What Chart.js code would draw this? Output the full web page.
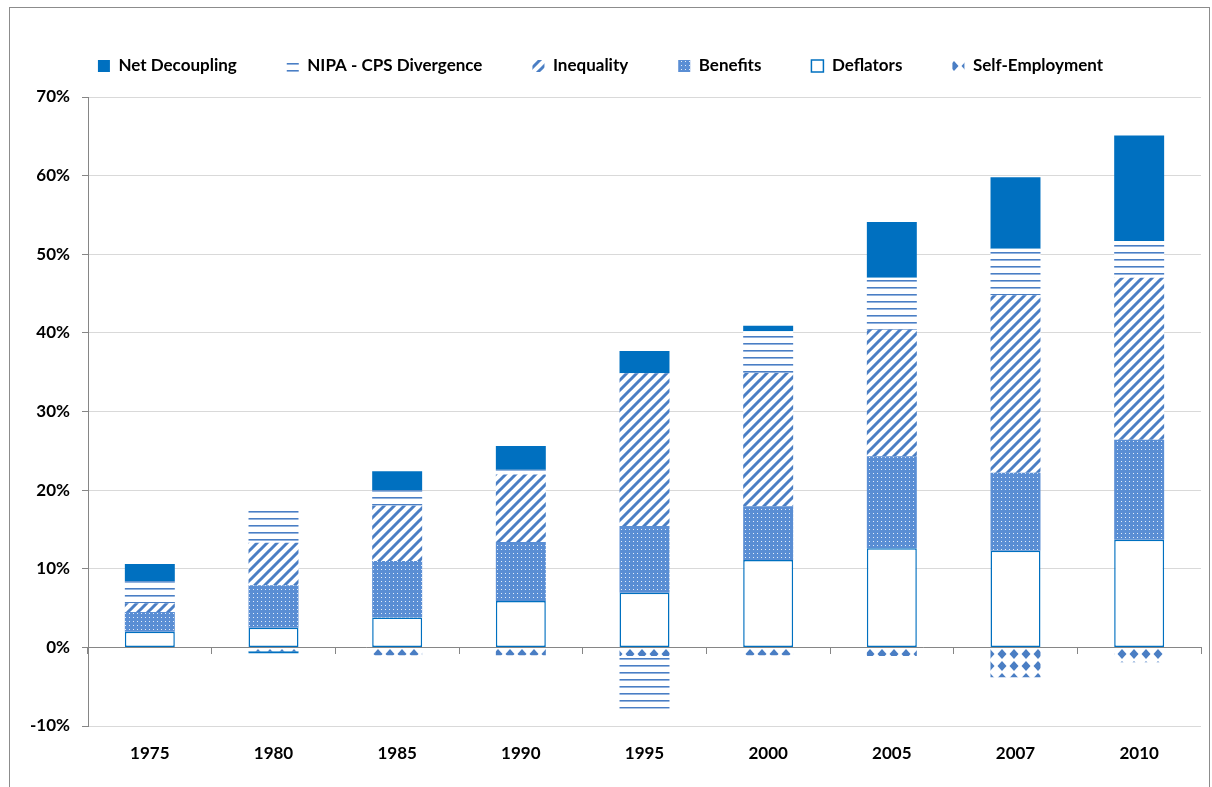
<!DOCTYPE html>
<html>
<head>
<meta charset="utf-8">
<script src="https://cdn.jsdelivr.net/npm/chart.js@4.4.1/dist/chart.umd.min.js"></script>
<style>
  html, body { margin: 0; padding: 0; background: #fff; }
  #wrap { position: relative; width: 1212px; height: 787px; }
</style>
</head>
<body>
<div id="wrap"><canvas id="chart" width="1212" height="787"></canvas></div>
<script>
const years = ["1975", "1980", "1985", "1990", "1995", "2000", "2005", "2007", "2010"];

// percent values
const selfEmployment = [-0.2, -0.5, -1.0, -1.0, -1.1, -1.0, -1.1, -3.8, -1.9];
const deflators = [2.0, 2.5, 3.8, 5.9, 6.95, 11.1, 12.6, 12.3, 13.7];
const benefits = [2.5, 5.4, 7.2, 7.5, 8.5, 6.85, 11.7, 9.9, 12.7];
const inequality = [1.1, 5.4, 7.0, 8.6, 19.4, 16.95, 16.1, 22.6, 20.6];
const nipaCps = [2.8, 4.2, 2.0, 0.6, -6.7, 5.3, 6.6, 5.9, 4.7];
const netDecoupling = [2.2, -0.25, 2.4, 3.0, 2.85, 0.7, 7.1, 9.1, 13.4];

const yTicks = [-10, 0, 10, 20, 30, 40, 50, 60, 70];

const BLUE = "#0070C0";
const LINE_BLUE = "#4A7EC4";
const FONT = { family: "Lato, 'Liberation Sans', sans-serif", size: 17, weight: "bold" };

const makePattern = (w, h, draw) => {
  const c = document.createElement("canvas");
  c.width = w;
  c.height = h;
  const g = c.getContext("2d");
  draw(g, w, h);
  return g.createPattern(c, "repeat");
};

const hLines = makePattern(8, 7, (g, w, h) => {
  g.fillStyle = "#fff";
  g.fillRect(0, 0, w, h);
  g.fillStyle = LINE_BLUE;
  g.fillRect(0, 0, w, 1);
  g.fillStyle = "#93B3DE";
  g.fillRect(0, 1, w, 1);
});

const diagonals = makePattern(10, 10, (g, w, h) => {
  g.fillStyle = "#fff";
  g.fillRect(0, 0, w, h);
  g.strokeStyle = LINE_BLUE;
  g.lineWidth = 3;
  g.beginPath();
  g.moveTo(-5, 5); g.lineTo(5, -5);
  g.moveTo(0, 10); g.lineTo(10, 0);
  g.moveTo(5, 15); g.lineTo(15, 5);
  g.stroke();
});

const dots = makePattern(4, 4, (g, w, h) => {
  g.fillStyle = "#5A8ED4";
  g.fillRect(0, 0, w, h);
  g.fillStyle = "#E3EDF9";
  g.fillRect(1, 1, 1, 1);
});

const diamonds = makePattern(12, 12, (g, w, h) => {
  g.fillStyle = "#fff";
  g.fillRect(0, 0, w, h);
  g.fillStyle = LINE_BLUE;
  g.beginPath();
  g.moveTo(6, 1);
  g.lineTo(10.5, 6);
  g.lineTo(6, 11);
  g.lineTo(1.5, 6);
  g.closePath();
  g.fill();
});

const frame = {
  id: "frame",
  beforeDraw(chart) {
    const { ctx } = chart;
    ctx.save();
    ctx.fillStyle = "#fff";
    ctx.fillRect(0, 0, chart.width, chart.height);
    ctx.strokeStyle = "#8C8C8C";
    ctx.lineWidth = 1;
    ctx.strokeRect(9.5, 7.5, 1200, 800);
    ctx.restore();
  }
};

// extra room between the legend row and the plot
const legendGap = {
  id: "legendGap",
  beforeInit(chart) {
    const fit = chart.legend.fit;
    chart.legend.fit = function () {
      fit.call(this);
      this.height += 12.5;
    };
  }
};

const bar = (label, data, fill, extra = {}) => ({
  label,
  data,
  backgroundColor: fill,
  borderWidth: 0,
  ...extra
});

new Chart(document.getElementById("chart").getContext("2d"), {
  type: "bar",
  data: {
    labels: years,
    datasets: [
      bar("Self-Employment", selfEmployment, diamonds),
      bar("Deflators", deflators, "#fff", { borderColor: BLUE, borderWidth: 1.5, borderSkipped: false }),
      bar("Benefits", benefits, dots),
      bar("Inequality", inequality, diagonals),
      bar("NIPA - CPS Divergence", nipaCps, hLines),
      bar("Net Decoupling", netDecoupling, BLUE)
    ]
  },
  options: {
    responsive: false,
    animation: false,
    events: [],
    layout: { padding: { top: 7.5, right: 11, bottom: 25, left: 0 } },
    datasets: {
      bar: { categoryPercentage: 1, barPercentage: 0.404 }
    },
    plugins: {
      tooltip: { enabled: false },
      legend: {
        position: "top",
        reverse: true,
        labels: {
          font: FONT,
          color: "#000",
          boxWidth: 12,
          boxHeight: 12,
          padding: 50
        }
      }
    },
    scales: {
      x: {
        stacked: true,
        grid: { display: false, drawTicks: false },
        border: { display: false },
        ticks: { font: FONT, color: "#000", padding: 17, maxRotation: 0 },
        afterFit: (scale) => { scale.height = 36; }
      },
      x2: {
        type: "category",
        position: { y: 0 },
        offset: true,
        z: 1,
        grid: {
          offset: true,
          drawOnChartArea: false,
          drawTicks: true,
          tickLength: 6,
          tickColor: "#868686"
        },
        border: { color: "#868686", width: 1 },
        ticks: { display: false }
      },
      y: {
        stacked: true,
        min: yTicks[0],
        max: yTicks[yTicks.length - 1],
        afterBuildTicks: (scale) => { scale.ticks = yTicks.map((v) => ({ value: v })); },
        ticks: {
          font: FONT,
          color: "#000",
          padding: 12,
          callback: (v) => v + "%"
        },
        grid: { color: "#D9D9D9", tickColor: "#868686", tickLength: 6 },
        border: { color: "#868686" },
        afterFit: (scale) => { scale.width = 88; }
      }
    }
  },
  plugins: [frame, legendGap]
});
</script>
</body>
</html>
